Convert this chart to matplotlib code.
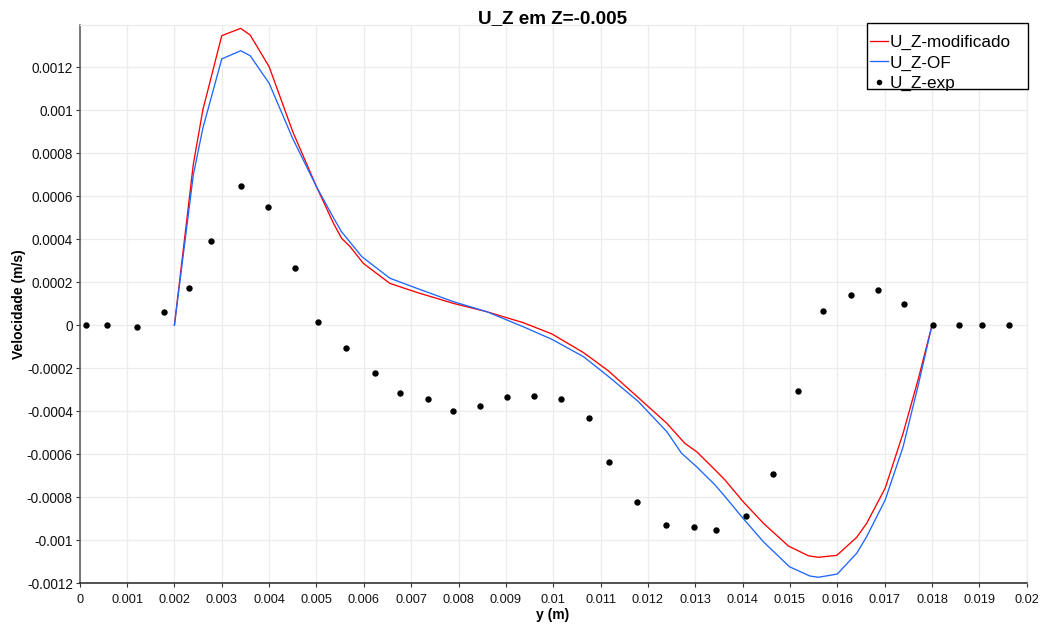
import matplotlib
matplotlib.use("Agg")
import matplotlib.pyplot as plt
from matplotlib.ticker import MultipleLocator, FuncFormatter
from matplotlib.lines import Line2D
from matplotlib.patches import Rectangle

plt.rcParams['font.family'] = ['Liberation Sans', 'DejaVu Sans']

# ---- data ----
pos_mod = [0.0020, 0.0024, 0.0026, 0.0030, 0.0034, 0.0036, 0.0040, 0.0045, 0.0050,
           0.00536, 0.00553, 0.00571, 0.00599, 0.00655, 0.00712, 0.00789, 0.0086,
           0.00937, 0.00997, 0.01064, 0.01116, 0.01176, 0.0124, 0.01278, 0.01303,
           0.01342, 0.01363, 0.01401, 0.01444, 0.01497, 0.01539, 0.0156, 0.01599,
           0.01641, 0.01662, 0.01701, 0.01739, 0.01771, 0.0180]
u_mod = [0.0, 0.00075, 0.001001, 0.001347, 0.001381, 0.00135, 0.001203, 0.00090, 0.000645,
         0.000474, 0.000405, 0.000366, 0.000288, 0.000195, 0.000153, 0.000102, 0.000063,
         0.000012, -0.00004, -0.000127, -0.000211, -0.000329, -0.000456, -0.000549, -0.000588,
         -0.000673, -0.00072, -0.00082, -0.000921, -0.001027, -0.001072, -0.001079, -0.00107,
         -0.000986, -0.000921, -0.000758, -0.000502, -0.00025, 0.0]

pos_of = [0.0020, 0.0024, 0.0026, 0.0030, 0.0034, 0.0036, 0.0040, 0.0045, 0.0050,
          0.00536, 0.00553, 0.00596, 0.00655, 0.00712, 0.00789, 0.0086,
          0.00937, 0.00997, 0.01064, 0.0112, 0.0118, 0.0124, 0.01271, 0.01303,
          0.01342, 0.01363, 0.01401, 0.01444, 0.01499, 0.01542, 0.0156, 0.0160,
          0.01641, 0.01662, 0.01701, 0.01739, 0.01771, 0.0180]
u_of = [0.0, 0.0007, 0.000916, 0.001239, 0.001277, 0.001254, 0.001126, 0.000868, 0.000645,
        0.0005, 0.000435, 0.000319, 0.000219, 0.000172, 0.00011, 0.000063,
        -0.000007, -0.000065, -0.000146, -0.000244, -0.000355, -0.000495, -0.000595, -0.000658,
        -0.000743, -0.000797, -0.000898, -0.001007, -0.001123, -0.001166, -0.001172, -0.001157,
        -0.00106, -0.000983, -0.000813, -0.000565, -0.000278, 0.0]

pos_exp = [0.000133, 0.000577, 0.00121, 0.00178, 0.0023, 0.00278, 0.0034, 0.00398, 0.00455,
           0.00504, 0.00562, 0.00624, 0.00677, 0.00735, 0.00788, 0.00845, 0.00902, 0.0096,
           0.01017, 0.01075, 0.01118, 0.01177, 0.01238, 0.01297, 0.01344, 0.01407, 0.01464,
           0.01516, 0.01569, 0.01629, 0.01686, 0.01741, 0.01803, 0.01856, 0.01905, 0.01962]
u_exp = [0.000002, 0.000002, -0.000008, 0.00006, 0.000172, 0.000391, 0.000649, 0.000552, 0.000268,
         0.000015, -0.000105, -0.000221, -0.000316, -0.000341, -0.000398, -0.000375, -0.000333, -0.000327,
         -0.000343, -0.000433, -0.000634, -0.000822, -0.000927, -0.000937, -0.000952, -0.000887, -0.000693,
         -0.000304, 0.000067, 0.000139, 0.000163, 0.0001, 0.0, 0.0, 0.0, 0.0]

labels = ['U_Z-modificado', 'U_Z-OF', 'U_Z-exp']
title = 'U_Z em Z=-0.005'
xlabel = 'y (m)'
ylabel = 'Velocidade (m/s)'

RED = '#ff0000'
BLUE = '#1f66ff'
W, H = 1045, 626

fig = plt.figure(figsize=(W / 100, H / 100), dpi=100)
ax = fig.add_axes([79.7 / W, 1 - 583.3 / H, (1026.7 - 79.7) / W, (583.3 - 25) / H])

ax.plot(pos_mod, u_mod, color=RED, lw=0.95, zorder=3)
ax.plot(pos_of, u_of, color=BLUE, lw=0.95, zorder=3)
ax.plot(pos_exp, u_exp, 'o', color='black', ms=4.6, mec='none', zorder=4)

ax.set_xlim(0, 0.02)
ax.set_ylim(-0.0012, 0.0013967)


def fmt(v, _):
    s = f'{v:.4f}'.rstrip('0').rstrip('.')
    if s in ('-0', ''):
        s = '0'
    return s


ax.xaxis.set_major_locator(MultipleLocator(0.001))
ax.yaxis.set_major_locator(MultipleLocator(0.0002))
ax.xaxis.set_major_formatter(FuncFormatter(fmt))
ax.yaxis.set_major_formatter(FuncFormatter(fmt))
ax.tick_params(axis='x', labelsize=9.2, length=3, width=0.8, color='#333333', pad=5, labelcolor='#111111')
ax.tick_params(axis='y', labelsize=9.8, length=3, width=0.8, color='#333333', pad=2, labelcolor='#111111')

ax.grid(True, color='#ececec', lw=0.9, zorder=0)
ax.set_axisbelow(True)
for s in ('top', 'right'):
    ax.spines[s].set_color('#ececec')
    ax.spines[s].set_linewidth(0.9)
ax.spines['left'].set_color('#555555')
ax.spines['bottom'].set_color('#222222')
ax.spines['left'].set_linewidth(1.1)
ax.spines['bottom'].set_linewidth(1.1)

fig.text(553 / W, 1 - 19 / H, title, ha='center', va='center', fontsize=13.6, fontweight='bold')
fig.text(553 / W, 1 - 615 / H, xlabel, ha='center', va='center', fontsize=10, fontweight='bold')
fig.text(19 / W, 1 - 304 / H, ylabel, ha='center', va='center', rotation=90, fontsize=10, fontweight='bold')

# legend frame
frame = Rectangle((867 / W, 1 - 89.3 / H), (1028 - 867) / W, (89.3 - 22.7) / H,
                  transform=fig.transFigure, facecolor='white', edgecolor='black',
                  lw=1.0, zorder=4)
fig.patches.append(frame)

handles = [Line2D([], [], color=RED, lw=0.95),
           Line2D([], [], color=BLUE, lw=0.95),
           Line2D([], [], ls='none', marker='o', color='black', ms=4, mec='none')]
leg = fig.legend(handles, labels, loc='center left', bbox_to_anchor=(870 / W, 1 - 63 / H),
                 bbox_transform=fig.transFigure, fontsize=12.3, frameon=False,
                 handlelength=1.05, handletextpad=0.12,
                 borderpad=0, labelspacing=0.33, borderaxespad=0)
leg.set_zorder(6)

fig.savefig('out.png', dpi=100)
